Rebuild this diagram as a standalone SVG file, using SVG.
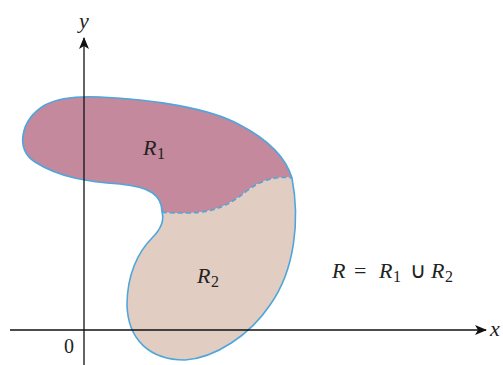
<svg xmlns="http://www.w3.org/2000/svg" width="503" height="365" viewBox="0 0 503 365">
<style>
text{font-family:"Liberation Serif","Times New Roman",serif;fill:#222}
.lbl{font-style:italic;font-size:22px}
.sub{font-style:normal;font-size:16px}
.num{font-style:normal;font-size:20px}
.op{font-style:normal;font-size:22px}
.ax{stroke:#111;stroke-width:1.3;fill:none}
.bd{stroke:#4fa6da;stroke-width:1.6;fill:none}
</style>
<defs>
<marker id="arr" viewBox="0 0 12 10" refX="11" refY="5" markerWidth="12" markerHeight="10" markerUnits="userSpaceOnUse" orient="auto">
<path d="M0,0 L12,5 L0,10 L3,5 Z" fill="#111"/>
</marker>
</defs>
<g id="R1">
<path d="M162,212 C162,195 150,187 120,184 C90,182 60,178 35,162 C15,150 20,120 45,105 C60,97 80,96 100,97 C150,99 210,108 240,125 C265,138 285,155 292,178 C275,176 262,180 248,190 C230,205 215,212 190,213 C175,213 165,213 162,212 Z" fill="#c4899d"/>
<text class="lbl" x="143" y="155">R<tspan class="sub" x="157" y="159">1</tspan></text>
</g>
<g id="R2">
<path d="M162,212 C165,213 175,213 190,213 C215,212 230,205 248,190 C262,180 275,176 292,178 C300,220 295,270 270,305 C250,335 215,358 185,360 C150,360 128,340 127,305 C127,275 138,252 152,238 C160,230 165,222 162,212 Z" fill="#e2cdc2"/>
<text class="lbl" x="197" y="283">R<tspan class="sub" x="211" y="287">2</tspan></text>
</g>
<g id="boundary">
<path class="bd" d="M162,212 C162,195 150,187 120,184 C90,182 60,178 35,162 C15,150 20,120 45,105 C60,97 80,96 100,97 C150,99 210,108 240,125 C265,138 285,155 292,178 C300,220 295,270 270,305 C250,335 215,358 185,360 C150,360 128,340 127,305 C127,275 138,252 152,238 C160,230 165,222 162,212"/>
<path class="bd" stroke-dasharray="5,3" d="M162,212 C165,213 175,213 190,213 C215,212 230,205 248,190 C262,180 275,176 292,178"/>
</g>
<g id="connectors">
<line class="ax" x1="84" y1="365" x2="84" y2="38" marker-end="url(#arr)"/>
<line class="ax" x1="10" y1="330" x2="486" y2="330" marker-end="url(#arr)"/>
</g>
<g id="labels">
<text class="lbl" x="79" y="28">y</text>
<text class="lbl" x="490" y="336">x</text>
<text class="num" x="64" y="353">0</text>
<text class="lbl" x="332" y="278">R<tspan class="op" x="354">=</tspan><tspan x="379">R</tspan><tspan class="sub" x="393" y="282">1</tspan><tspan class="op" x="410" y="278">∪</tspan><tspan x="431">R</tspan><tspan class="sub" x="445" y="282">2</tspan></text>
</g>
</svg>
